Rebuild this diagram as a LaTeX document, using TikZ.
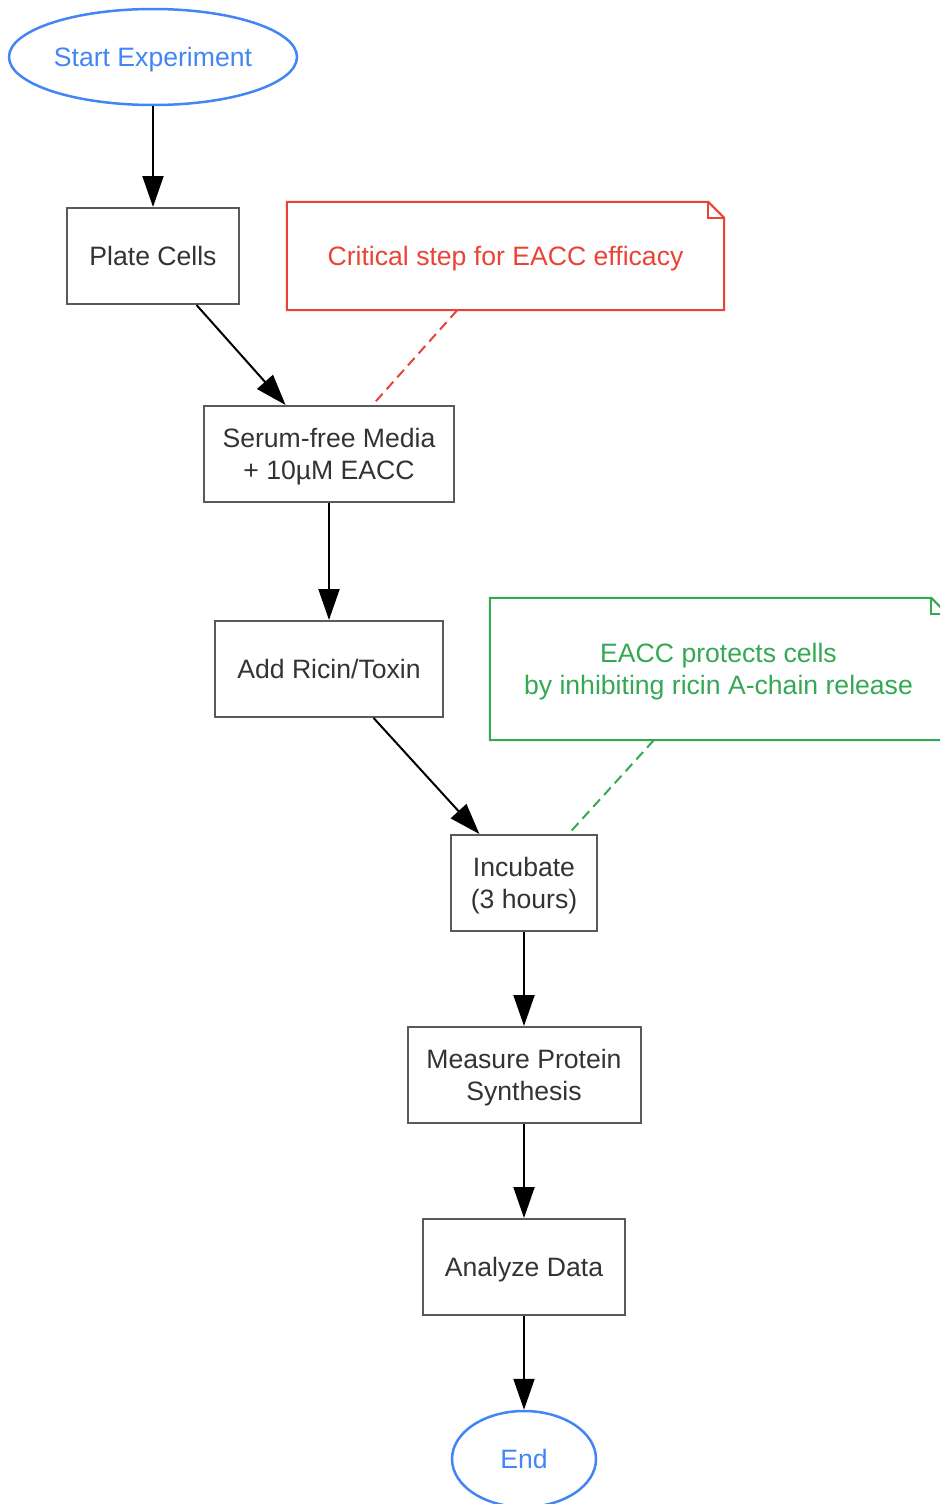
\documentclass[tikz,border=0pt]{standalone}
\usepackage{fontspec}
\setmainfont{Liberation Sans}
\usetikzlibrary{arrows.meta,shapes.geometric}

\definecolor{gblue}{HTML}{4285F4}
\definecolor{gred}{HTML}{EA4335}
\definecolor{ggreen}{HTML}{34A853}
\definecolor{boxline}{HTML}{5A5A5A}
\definecolor{boxtext}{HTML}{333333}

\begin{document}
\begin{tikzpicture}[x=1pt,y=-1pt]

	\useasboundingbox (0,0) rectangle (940,1504);
	\clip (0,0) rectangle (940,1504);

	\tikzset{stepbox/.style={draw=boxline,line width=2pt,text=boxtext,minimum height=96pt,inner sep=0pt,text depth=0pt,align=center,font=\fontsize{26.6}{32}\selectfont}}
	\tikzset{term/.style={draw=gblue,ellipse,line width=2.5pt,text=gblue,inner sep=0pt,text depth=0pt,minimum height=96pt,font=\fontsize{26.6}{32}\selectfont}}
	\tikzset{note/.style={rectangle,inner sep=0pt,text depth=0pt,align=center,font=\fontsize{26.6}{32}\selectfont}}
	\tikzset{flow/.style={line width=2pt,-{Triangle[length=31pt,width=21pt]}}}
	\tikzset{tie/.style={line width=2pt,dash pattern=on 10pt off 6pt}}

	% main steps

	\node[term,minimum width=288pt] (start) at (153,57) {Start Experiment};
	\node[stepbox,minimum width=172pt] (plate) at (153,256) {Plate Cells};
	\node[stepbox,minimum width=250pt] (serum) at (329,454) {Serum-free Media\\+ 10µM EACC};
	\node[stepbox,minimum width=228pt] (ricin) at (329,669) {Add Ricin/Toxin};
	\node[stepbox,minimum width=146pt] (incub) at (524,883) {Incubate\\(3 hours)};
	\node[stepbox,minimum width=233pt] (measure) at (524,1075) {Measure Protein\\Synthesis};
	\node[stepbox,minimum width=202pt] (analyze) at (524,1267) {Analyze Data};
	\node[term,minimum width=144pt] (stop) at (524,1459) {End};

	\draw[flow] (start) -- (plate);
	\draw[flow] (plate) -- (serum);
	\draw[flow] (serum) -- (ricin);
	\draw[flow] (ricin) -- (incub);
	\draw[flow] (incub) -- (measure);
	\draw[flow] (measure) -- (analyze);
	\draw[flow] (analyze) -- (stop);

	% notes

	\node[note,text=gred,minimum width=437pt,minimum height=108pt] (rnote) at (505.5,256) {Critical step for EACC efficacy};
	\draw[gred,line width=2pt] (rnote.north west) -- ([xshift=-16pt]rnote.north east) -- ([yshift=-16pt]rnote.north east) -- (rnote.south east) -- (rnote.south west) -- cycle;
	\draw[gred,line width=2pt] ([xshift=-16pt]rnote.north east) |- ([yshift=-16pt]rnote.north east);
	\draw[tie,gred] (rnote) -- (serum);

	\node[note,text=ggreen,minimum width=457pt,minimum height=142pt] (gnote) at (718.5,669) {EACC protects cells\\by inhibiting ricin A-chain release};
	\draw[ggreen,line width=2pt] (gnote.north west) -- ([xshift=-16pt]gnote.north east) -- ([yshift=-16pt]gnote.north east) -- (gnote.south east) -- (gnote.south west) -- cycle;
	\draw[ggreen,line width=2pt] ([xshift=-16pt]gnote.north east) |- ([yshift=-16pt]gnote.north east);
	\draw[tie,ggreen] (gnote) -- (incub);

\end{tikzpicture}
\end{document}
